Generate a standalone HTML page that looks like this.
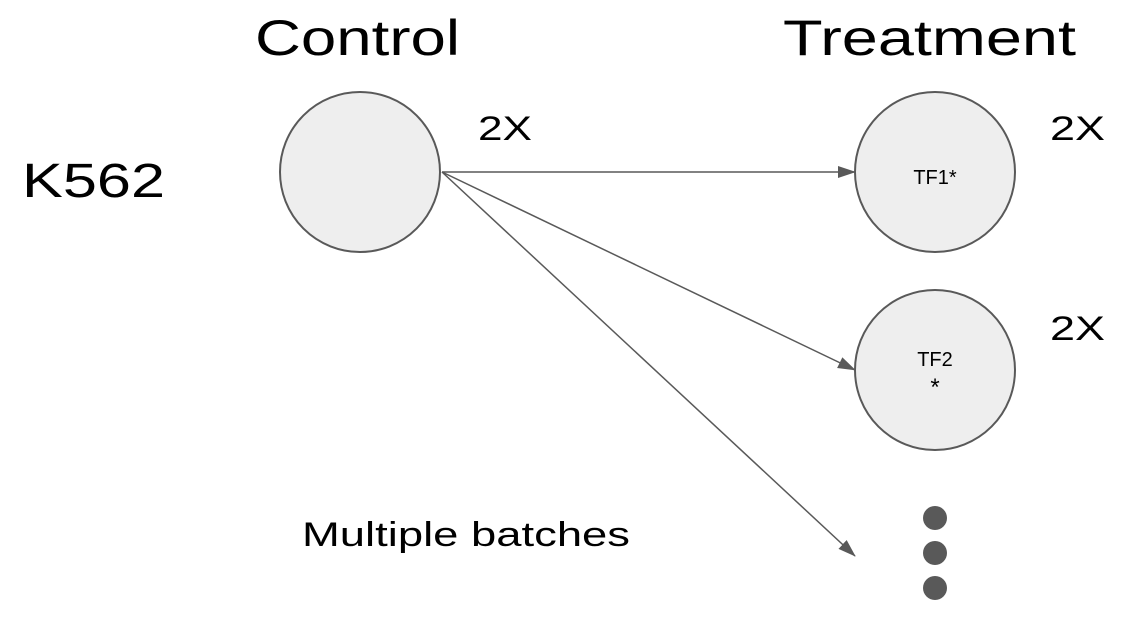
<!DOCTYPE html>
<html><head><meta charset="utf-8"><style>html,body{margin:0;padding:0;background:#fff}</style></head>
<body>
<svg width="1128" height="626" viewBox="0 0 1128 626" xmlns="http://www.w3.org/2000/svg" font-family="Liberation Sans, DejaVu Sans, sans-serif">
<defs><marker id="a" markerWidth="18" markerHeight="14" refX="17" refY="6" orient="auto" markerUnits="userSpaceOnUse" viewBox="0 0 18 12"><path d="M0,0 L18,6 L0,12 z" fill="#595959"/></marker></defs>
<text x="255" y="55" font-size="50" textLength="205" lengthAdjust="spacingAndGlyphs">Control</text>
<text x="783" y="55" font-size="50" textLength="293" lengthAdjust="spacingAndGlyphs">Treatment</text>
<text x="22" y="197" font-size="48" textLength="143" lengthAdjust="spacingAndGlyphs">K562</text>
<text x="478" y="140" font-size="34" textLength="54" lengthAdjust="spacingAndGlyphs">2X</text>
<text x="1050" y="140" font-size="34" textLength="55" lengthAdjust="spacingAndGlyphs">2X</text>
<text x="1050" y="340" font-size="34" textLength="55" lengthAdjust="spacingAndGlyphs">2X</text>
<text x="302" y="546" font-size="34" textLength="328" lengthAdjust="spacingAndGlyphs">Multiple batches</text>
<circle cx="360" cy="172" r="80" fill="#eeeeee" stroke="#595959" stroke-width="2"/>
<circle cx="935" cy="172" r="80" fill="#eeeeee" stroke="#595959" stroke-width="2"/>
<circle cx="935" cy="370" r="80" fill="#eeeeee" stroke="#595959" stroke-width="2"/>
<text x="935" y="184" font-size="20" text-anchor="middle">TF1*</text>
<text x="935" y="366" font-size="20" text-anchor="middle">TF2</text>
<text x="935" y="395" font-size="24" text-anchor="middle">*</text>
<circle cx="935" cy="518" r="12" fill="#595959"/>
<circle cx="935" cy="553" r="12" fill="#595959"/>
<circle cx="935" cy="588" r="12" fill="#595959"/>
<g stroke="#595959" stroke-width="1.5" fill="none" marker-end="url(#a)">
<line x1="442" y1="172" x2="855" y2="172"/>
<line x1="442" y1="172" x2="855" y2="370"/>
<line x1="442" y1="172" x2="855" y2="556"/>
</g>
</svg>
</body></html>
